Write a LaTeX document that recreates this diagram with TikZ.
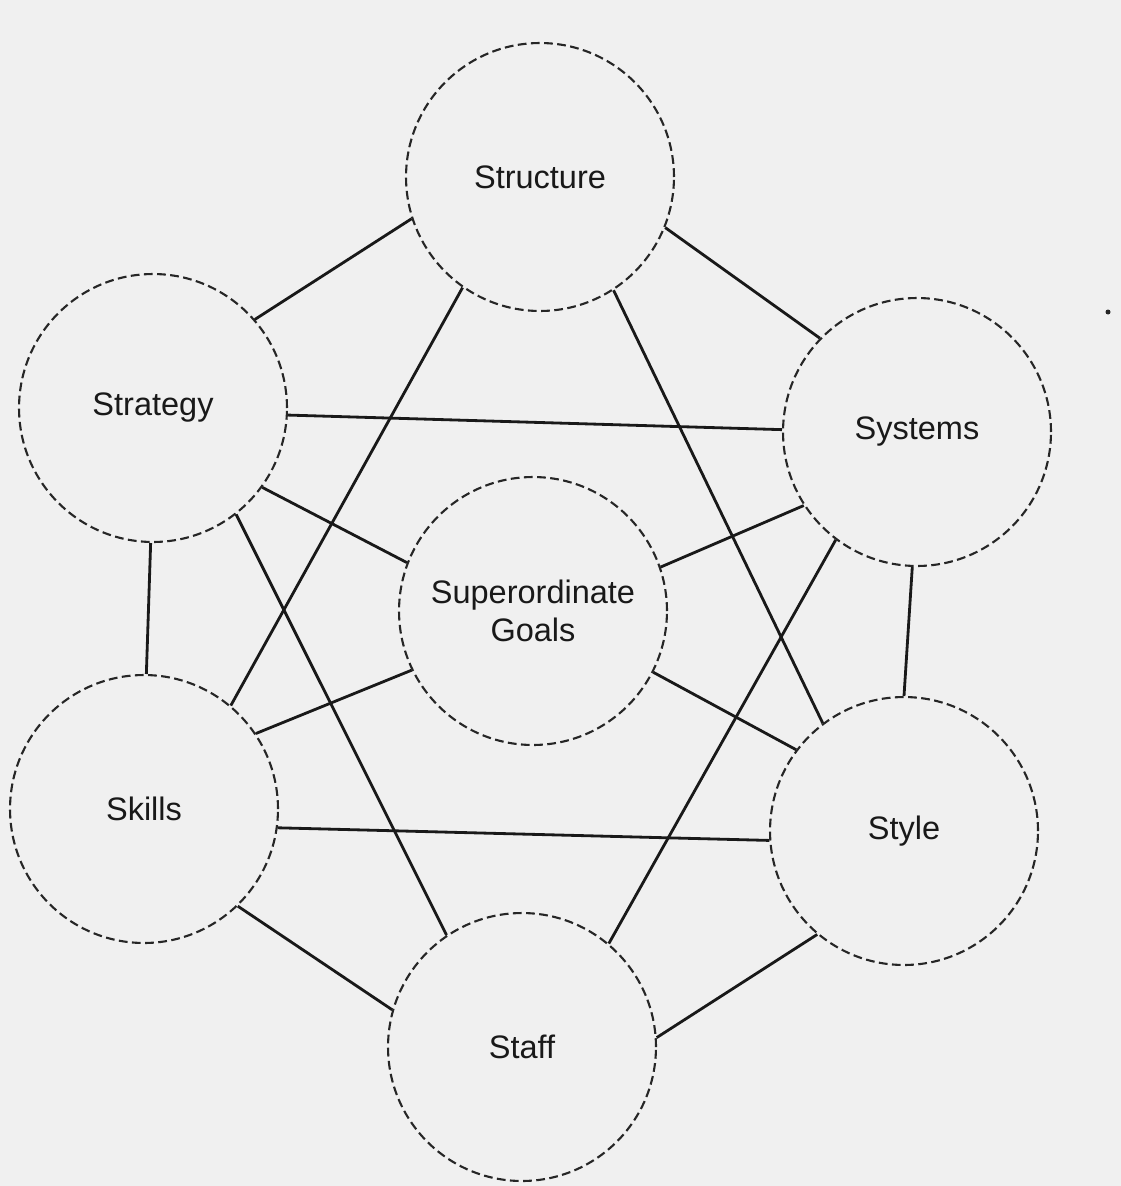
\documentclass[tikz,border=0pt]{standalone}
\usepackage{fontspec}
\setmainfont{Liberation Sans}
\begin{document}
\begin{tikzpicture}[x=0.02cm,y=-0.02cm,
  sball/.style={circle,draw=black!85,line width=1.2pt,dash pattern=on 5pt off 2.5pt,minimum size=5.36cm,inner sep=0pt,font=\fontsize{18.5}{22}\selectfont,align=center,text=black!90},
  link/.style={line width=1.6pt,draw=black!90}]
\fill[gray!12] (0,0) rectangle (1121,1186);
\useasboundingbox (0,0) rectangle (1121,1186);
\node[sball] (structure) at (540,177) {Structure};
\node[sball] (strategy) at (153,408) {Strategy};
\node[sball] (systems) at (917,432) {Systems};
\node[sball] (goals) at (533,611) {Superordinate\\Goals};
\node[sball] (skills) at (144,809) {Skills};
\node[sball] (style) at (904,831) {Style};
\node[sball] (staff) at (522,1047) {Staff};
\draw[link] (strategy.41) -- (structure.198);
\draw[link] (structure.338) -- (systems.136);
\draw[link] (strategy.-3) -- (systems.179);
\draw[link] (structure.235) -- (skills.50);
\draw[link] (structure.303) -- (style.127);
\draw[link] (strategy.-36) -- (goals.159);
\draw[link] (systems.213) -- (goals.19);
\draw[link] (strategy.269) -- (skills.89);
\draw[link] (systems.268) -- (style.90);
\draw[link] (strategy.-52) -- (staff.124);
\draw[link] (systems.233) -- (staff.50);
\draw[link] (goals.206) -- (skills.34);
\draw[link] (goals.333) -- (style.143);
\draw[link] (skills.-8) -- (style.184);
\draw[link] (skills.-46) -- (staff.164);
\draw[link] (style.230) -- (staff.4);
\coordinate (speck) at (1108,312);
\fill[black!85] (speck) circle (2.5);
\end{tikzpicture}
\end{document}
